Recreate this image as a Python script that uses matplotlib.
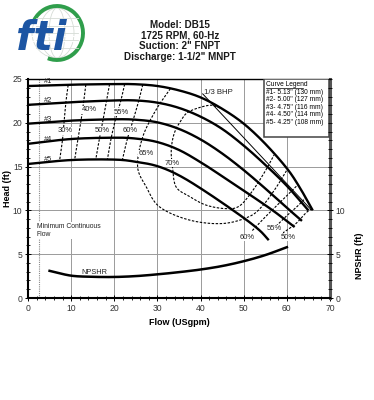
import matplotlib
matplotlib.use("Agg")
import matplotlib.pyplot as plt
import numpy as np
from matplotlib.patches import Arc, Rectangle, Ellipse
from matplotlib.ticker import MultipleLocator

plt.rcParams['font.family'] = ['Liberation Sans', 'DejaVu Sans']

# ---------------- data ----------------
title_lines = ["Model: DB15", "1725 RPM, 60-Hz", 'Suction: 2" FNPT', 'Discharge: 1-1/2" MNPT']

flow_1 = [0, 10, 20, 25, 30, 35, 40, 45, 50, 55, 60, 63, 66]
head_1 = [24.2, 24.35, 24.42, 24.4, 24.2, 23.7, 22.9, 21.6, 19.9, 17.6, 14.8, 12.6, 10.0]
flow_2 = [0, 10, 20, 25, 30, 35, 40, 45, 50, 55, 60, 65]
head_2 = [22.05, 22.35, 22.55, 22.55, 22.3, 21.7, 20.7, 19.3, 17.4, 15.2, 12.8, 10.0]
flow_3 = [0, 10, 20, 25, 30, 35, 40, 45, 50, 55, 60, 63.5]
head_3 = [19.9, 20.25, 20.4, 20.35, 20.05, 19.3, 18.1, 16.5, 14.6, 12.5, 10.3, 8.8]
flow_4 = [0, 10, 20, 25, 30, 35, 40, 45, 52, 57, 61.8]
head_4 = [17.6, 18.15, 18.3, 18.2, 17.8, 16.9, 15.5, 13.9, 11.6, 9.9, 8.1]
flow_5 = [0, 10, 20, 25, 30, 35, 41, 49, 53.5, 55.8]
head_5 = [15.3, 15.75, 15.8, 15.55, 15.05, 14.0, 12.2, 9.5, 7.8, 6.6]
curve_names = ["#1", "#2", "#3", "#4", "#5"]
legend_title = "Curve Legend"
legend_entries = ['#1- 5.13" (130 mm)', '#2- 5.00" (127 mm)', '#3- 4.75" (116 mm)',
                  '#4- 4.50" (114 mm)', '#5- 4.25" (108 mm)']

npshr_flow = [5, 10, 15, 20, 25, 30, 35, 40, 45, 50, 55, 60]
npshr_head = [3.1, 2.55, 2.42, 2.4, 2.5, 2.7, 2.95, 3.25, 3.65, 4.2, 4.9, 5.8]

bhp_flow = [40.5, 65.4]
bhp_head = [23.3, 10.2]

e30_q = [9.3, 8.8, 8.4, 8.0, 7.3]
e30_h = [24.3, 22.4, 20.3, 18.1, 15.6]
e40_q = [13.4, 12.9, 12.3, 11.6, 10.8]
e40_h = [24.35, 22.4, 20.3, 18.2, 15.75]
e50_q = [18.9, 18.2, 17.4, 16.6, 15.7]
e50_h = [24.4, 22.5, 20.35, 18.3, 15.8]
e55_q = [22.4, 21.5, 20.3, 19.3, 18.4]
e55_h = [24.4, 22.5, 20.4, 18.3, 15.8]
e60_q = [26.6, 25.6, 24.3, 23.0, 21.8]
e60_h = [24.35, 22.4, 20.2, 18.1, 15.6]
e65_q = [33.0, 29.7, 26.6, 25.4, 27.4, 30.5, 37.4, 45.1, 51.3, 54.5, 57.5, 60.0]
e65_h = [23.9, 21.5, 18.4, 15.0, 12.7, 10.4, 8.9, 8.5, 9.3, 10.6, 12.6, 14.6]
e70_q = [44.5, 42.0, 37.4, 35.5, 33.9, 33.2, 33.5, 34.3, 37.4, 41.3, 45.9, 49.0, 52.0, 55.0, 57.0]
e70_h = [21.7, 22.0, 21.3, 20.3, 18.8, 16.9, 15.0, 12.7, 11.6, 10.6, 10.2, 10.5, 12.2, 14.5, 16.3]
e60r_q = [52.0, 55.1, 59.0, 62.5]
e60r_h = [7.7, 9.3, 11.2, 12.9]
e55r_q = [57.5, 60.0, 62.5, 64.3]
e55r_h = [8.2, 9.4, 10.5, 11.4]
e50r_q = [59.0, 62.1, 64.4, 65.8]
e50r_h = [7.4, 8.5, 9.7, 10.2]

eff_labels = ["30%", "40%", "50%", "55%", "60%", "65%", "70%", "60%", "55%", "50%"]
eff_label_q = [8.6, 14.2, 17.3, 21.7, 23.8, 27.3, 33.5, 50.7, 57.2, 60.3]
eff_label_h = [19.1, 21.5, 19.1, 21.2, 19.1, 16.5, 15.4, 6.9, 7.9, 6.9]

xticks = [0, 10, 20, 30, 40, 50, 60, 70]
yticks = [0, 5, 10, 15, 20, 25]
rticks = [0, 5, 10]


def smooth(xs, ys, n=24):
    pts = np.column_stack([xs, ys]).astype(float)
    P = np.vstack([2 * pts[0] - pts[1], pts, 2 * pts[-1] - pts[-2]])
    out = []
    t = np.linspace(0, 1, n, endpoint=False)[:, None]
    for i in range(1, len(P) - 2):
        p0, p1, p2, p3 = P[i - 1], P[i], P[i + 1], P[i + 2]
        seg = 0.5 * ((2 * p1) + (-p0 + p2) * t + (2 * p0 - 5 * p1 + 4 * p2 - p3) * t ** 2
                     + (-p0 + 3 * p1 - 3 * p2 + p3) * t ** 3)
        out.append(seg)
    out.append(pts[-1:])
    s = np.vstack(out)
    return s[:, 0], s[:, 1]


fig = plt.figure(figsize=(3.74, 4.0), dpi=100)

# ---------------- header (logo + title) ----------------
deco = fig.add_axes([0, 0, 1, 1], zorder=0)
deco.set_xlim(0, 374)
deco.set_ylim(400, 0)
deco.axis('off')
for w in [50, 34, 16]:
    deco.add_patch(Ellipse((57, 33), w, 50, fill=False, ec='#d6dcd6', lw=0.6))
for yy in [18, 26, 33, 40, 48]:
    deco.plot([36, 78], [yy, yy], color='#d6dcd6', lw=0.6)
deco.add_patch(Arc((57, 33), 52, 54, theta1=-150, theta2=110, color='#2f9e4b', lw=2.8))
deco.text(41, 39, "fti", fontsize=29, fontweight='heavy', style='italic', color='#1c55a3',
          ha='center', va='center', family='DejaVu Sans')
for yy in [36, 41]:
    deco.plot([10, 76], [yy, yy], color='white', lw=0.7)

for i, line in enumerate(title_lines):
    fig.text(180 / 374, 1 - (25 + 10.5 * i) / 400, line, ha='center', va='center',
             fontsize=7.1, fontweight='bold', color='#1a1a1a')

# ---------------- main axes ----------------
ax = fig.add_axes([28 / 374, 102 / 400, 302 / 374, 219 / 400], zorder=2)
ax.set_xlim(0, 70)
ax.set_ylim(0, 25)
ax.set_facecolor('none')

ax.set_xticks(xticks)
ax.set_yticks(yticks)
ax.xaxis.set_minor_locator(MultipleLocator(2))
ax.yaxis.set_minor_locator(MultipleLocator(1))
ax.tick_params(which='both', direction='inout', labelsize=6.2, labelcolor='#333333', pad=2)
ax.tick_params(which='major', length=4, width=0.7)
ax.tick_params(which='minor', length=3, width=0.6)
for yv in [5, 10, 15, 20]:
    ax.axhline(yv, color='#9a9a9a', lw=0.7, zorder=0)
for xv in [10, 20, 30, 40, 50, 60]:
    ax.axvline(xv, color='#9a9a9a', lw=0.7, zorder=0)
for s in ['left', 'bottom']:
    ax.spines[s].set_linewidth(1.5)
ax.spines['top'].set_linewidth(1.0)
ax.spines['right'].set_linewidth(2.2)
ax.spines['right'].set_color('#555555')

ax.set_xlabel("Flow (USgpm)", fontsize=6.5, fontweight='bold', labelpad=4)
fig.text(8 / 374, 1 - 188.5 / 400, "Head (ft)", rotation=90, ha='center', va='center',
         fontsize=6.5, fontweight='bold')

# minimum continuous flow
ax.axvline(2.5, color='#888888', lw=0.8, ls=(0, (1, 1)), zorder=1)
ax.text(2.0, 7.7, "Minimum Continuous\nFlow", fontsize=4.9, ha='left', va='center',
        linespacing=1.2, color='#222222',
        bbox=dict(facecolor='white', edgecolor='none', pad=1.0), zorder=3)

# efficiency contours
eff_sets = [(e30_q, e30_h), (e40_q, e40_h), (e50_q, e50_h), (e55_q, e55_h), (e60_q, e60_h),
            (e65_q, e65_h), (e70_q, e70_h), (e60r_q, e60r_h), (e55r_q, e55r_h), (e50r_q, e50r_h)]
for q, h in eff_sets:
    xs, ys = smooth(q, h)
    ax.plot(xs, ys, color='black', lw=0.8, ls=(0, (2.2, 1.4)), zorder=4)

for lab, q, h in zip(eff_labels, eff_label_q, eff_label_h):
    ax.text(q, h, lab, fontsize=5.5, ha='center', va='center', color='#222222', zorder=5,
            bbox=dict(facecolor='white', edgecolor='none', pad=0.3))

# head curves
flows = [flow_1, flow_2, flow_3, flow_4, flow_5]
heads = [head_1, head_2, head_3, head_4, head_5]
for name, q, h in zip(curve_names, flows, heads):
    xs, ys = smooth(q, h)
    ax.plot(xs, ys, color='black', lw=1.7, zorder=6, solid_capstyle='butt')
    ax.text(4.6, h[0] + 0.5, name, fontsize=5.3, ha='center', va='center', color='#222222', zorder=7)

# 1/3 BHP line
ax.plot(bhp_flow, bhp_head, color='black', lw=0.7, zorder=6)
ax.text(44.1, 23.5, "1/3 BHP", fontsize=5.6, ha='center', va='center', color='#222222', zorder=7)

# NPSHR
xs, ys = smooth(npshr_flow, npshr_head)
ax.plot(xs, ys, color='black', lw=1.8, zorder=6)
ax.text(15.5, 2.9, "NPSHR", fontsize=5.3, ha='center', va='center', color='#222222', zorder=7)

# legend box
ax.add_patch(Rectangle((54.75, 18.4), 15.1, 6.6, facecolor='white', edgecolor='#444444',
                       lw=1.1, zorder=8))
ax.text(55.2, 24.35, legend_title, fontsize=4.8, ha='left', va='center', zorder=9)
ax.plot([55.2, 63.8], [23.95, 23.95], color='black', lw=0.5, zorder=9)
for i, e in enumerate(legend_entries):
    ax.text(55.2, 23.45 - 0.84 * i, e, fontsize=4.8, ha='left', va='center', zorder=9)

# right axis (NPSHR)
ax2 = ax.twinx()
ax2.set_ylim(0, 25)
ax2.set_yticks(rticks)
ax2.yaxis.set_minor_locator(MultipleLocator(1))
ax2.tick_params(which='both', direction='inout', labelsize=6.2, labelcolor='#333333', pad=2)
ax2.tick_params(which='major', length=4, width=0.7)
ax2.tick_params(which='minor', length=3, width=0.6)
for s in ax2.spines.values():
    s.set_visible(False)
fig.text(360 / 374, 1 - 256 / 400, "NPSHR (ft)", rotation=90, ha='center', va='center',
         fontsize=6.5, fontweight='bold')

fig.savefig("out.png", dpi=100)
